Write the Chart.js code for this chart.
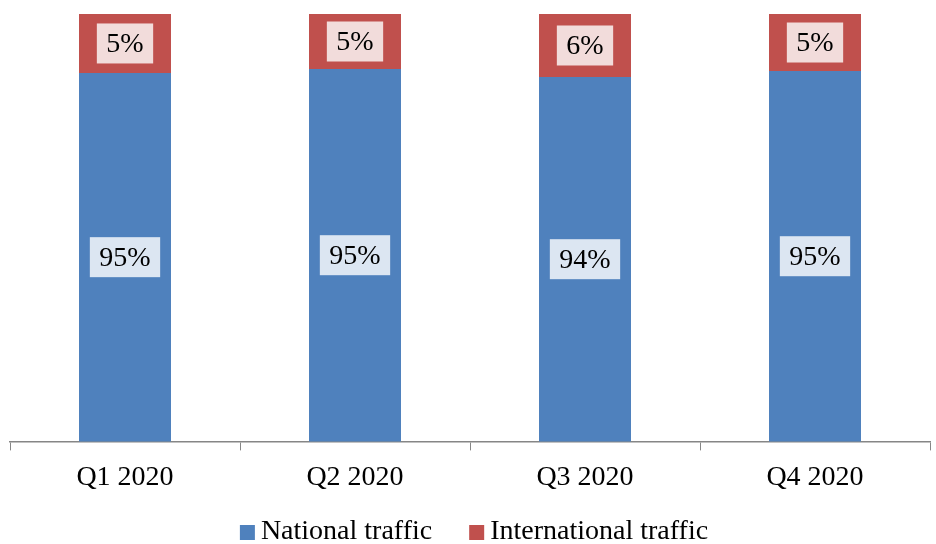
<!DOCTYPE html>
<html>
<head>
<meta charset="utf-8">
<script src="https://cdn.jsdelivr.net/npm/chart.js@4/dist/chart.umd.min.js"></script>
<style>
  html, body { margin: 0; padding: 0; background: #fff; }
  #wrap { width: 936px; height: 544px; }
</style>
</head>
<body>
<div id="wrap"><canvas id="myChart" width="936" height="544"></canvas></div>
<script>
const quarters = ["Q1 2020", "Q2 2020", "Q3 2020", "Q4 2020"];
const nationalTraffic = [94.76, 95.11, 94.4, 94.93];
const internationalTraffic = [5.24, 4.89, 5.6, 5.07];

const FONT = "'Liberation Serif', serif";

// box labels drawn on the visible part of each segment
const boxLabels = {
    id: "boxLabels",
    afterDatasetsDraw(chart) {
        const ctx = chart.ctx;
        const area = chart.chartArea;
        ctx.save();
        ctx.font = "28px " + FONT;
        ctx.textAlign = "center";
        ctx.textBaseline = "middle";
        chart.data.datasets.forEach((ds, i) => {
            const meta = chart.getDatasetMeta(i);
            meta.data.forEach((bar, j) => {
                const top = Math.max(bar.y, area.top);
                const bottom = Math.min(bar.base, area.bottom);
                const cy = (top + bottom) / 2;
                const text = Math.round(ds.data[j]) + "%";
                const w = ctx.measureText(text).width + 19;
                ctx.fillStyle = ds.labelBox;
                ctx.fillRect(bar.x - w / 2, cy - 20, w, 40);
                ctx.fillStyle = "#000";
                ctx.fillText(text, bar.x, cy + 1);
            });
        });
        ctx.restore();
    }
};

// legend under the axis, squares close to their text
const bottomLegend = {
    id: "bottomLegend",
    afterDraw(chart) {
        const ctx = chart.ctx;
        const sets = chart.data.datasets;
        ctx.save();
        ctx.font = "28px " + FONT;
        ctx.textBaseline = "middle";
        ctx.textAlign = "left";
        const widths = sets.map(ds => 15 + 6 + ctx.measureText(ds.label).width);
        const total = widths.reduce((a, b) => a + b, 0) + 37 * (sets.length - 1);
        let x = 474 - total / 2;
        const y = 532;
        sets.forEach((ds, i) => {
            ctx.fillStyle = ds.backgroundColor;
            ctx.fillRect(x, y - 7, 15, 15);
            ctx.fillStyle = "#000";
            ctx.fillText(ds.label, x + 21, y);
            x += widths[i] + 37;
        });
        ctx.restore();
    }
};

const ctx = document.getElementById("myChart").getContext("2d");
const myChart = new Chart(ctx, {
    type: "bar",
    data: {
        labels: quarters,
        datasets: [
            {
                label: "National traffic",
                data: nationalTraffic,
                backgroundColor: "#4f81bd",
                labelBox: "#dce6f2"
            },
            {
                label: "International traffic",
                data: internationalTraffic,
                backgroundColor: "#c0504d",
                labelBox: "#f2dcdb"
            }
        ]
    },
    options: {
        responsive: false,
        animation: false,
        layout: { padding: { left: 10, right: 6, top: 14, bottom: 40 } },
        datasets: { bar: { categoryPercentage: 0.4, barPercentage: 1, borderWidth: 0 } },
        scales: {
            x: {
                stacked: true,
                offset: true,
                grid: {
                    offset: true,
                    drawOnChartArea: false,
                    drawTicks: true,
                    tickLength: 9,
                    color: "#868686"
                },
                border: { color: "#868686", width: 1.5 },
                ticks: {
                    color: "#000",
                    padding: 10,
                    font: { family: FONT, size: 28 }
                }
            },
            y: {
                stacked: true,
                display: false,
                min: 62,
                max: 100
            }
        },
        plugins: {
            tooltip: { enabled: false },
            legend: { display: false }
        }
    },
    plugins: [boxLabels, bottomLegend]
});
</script>
</body>
</html>
